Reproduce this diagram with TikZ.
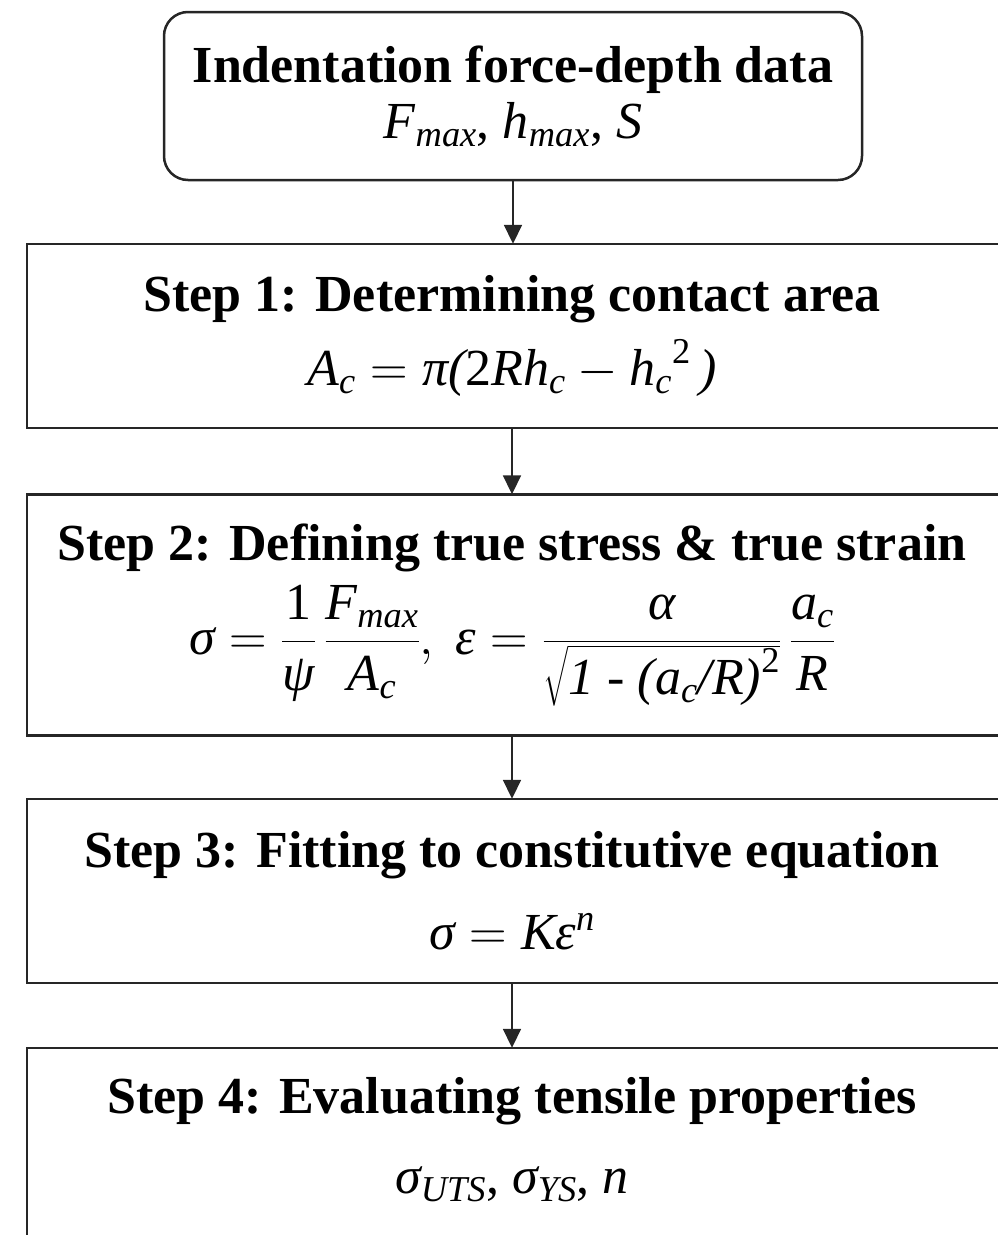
\documentclass[tikz,border=0pt]{standalone}
\usepackage{fix-cm}
\usepackage{amsmath}
\usepackage{fontspec}
\setmainfont{Liberation Serif}[ItalicFont={Liberation Serif Italic},BoldFont={Liberation Serif Bold}]
\usetikzlibrary{positioning,arrows.meta}
\newcommand{\mvar}[1]{\text{\itshape #1}}
\newcommand{\mnum}[1]{\text{\upshape #1}}

\begin{document}
\begin{tikzpicture}[x=1pt,y=-1pt,
    databox/.style={draw=black!85,line width=2.5pt,rounded corners=24pt,
      minimum width=698pt,minimum height=168pt,align=center,inner sep=0pt,
      font=\fontsize{52}{56}\selectfont},
    stepbox/.style={minimum width=970pt,align=center,inner sep=0pt,
      font=\fontsize{52}{60}\selectfont},
    frame/.style={draw=black!85,line width=2.5pt},
    arrow/.style={-{Triangle[length=19pt,width=18pt]},line width=1.8pt,draw=black!85}
  ]
  \useasboundingbox (0,0) rectangle (998,1235);
  \node[databox] at (513,96) (data) {\textbf{Indentation force-depth data}\\
    $\mvar{F}_{\mvar{max}}$, $\mvar{h}_{\mvar{max}}$, $\mvar{S}$};
  \node[stepbox,minimum height=184pt] at (512,336) (s1) {\textbf{Step 1: Determining contact area}\\[14pt]
    $\mvar{A}_{\mvar{c}}=\mvar{π}\mvar{(}\mnum{2}\mvar{R}\mvar{h}_{\mvar{c}}-{\mvar{h}_{\mvar{c}}}^{\mnum{2}}\,\mvar{)}$};
  \node[stepbox,minimum height=241pt] at (512,615) (s2) {\textbf{Step 2: Defining true stress \& true strain}\\[12pt]
    $\mvar{σ}=\dfrac{\mnum{1}}{\mvar{ψ}}\,\dfrac{\mvar{F}_{\mvar{max}}}{\mvar{A}_{\mvar{c}}},\ 
     \mvar{ε}=\dfrac{\mvar{α}}{\sqrt{\mvar{1 - (}\mvar{a}_{\mvar{c}}\mvar{/R)}^{\mnum{2}}}}\,\dfrac{\mvar{a}_{\mvar{c}}}{\mvar{R}}$};
  \node[stepbox,minimum height=184pt] at (512,891) (s3) {\textbf{Step 3: Fitting to constitutive equation}\\[22pt]
    $\mvar{σ}=\mvar{K}\mvar{ε}^{\mvar{n}}$};
  \node[stepbox,minimum height=184pt] at (512,1140) (s4) {\textbf{Step 4: Evaluating tensile properties}\\[20pt]
    $\mvar{σ}_{\mvar{UTS}}$, $\mvar{σ}_{\mvar{YS}}$, $\mvar{n}$};
  % open frames, cut at the right edge
  \draw[frame] ([xshift=30pt]s1.north east) -- (s1.north west) -- (s1.south west) -- ([xshift=30pt]s1.south east);
  \draw[frame] ([xshift=30pt]s2.north east) -- (s2.north west) -- (s2.south west) -- ([xshift=30pt]s2.south east);
  \draw[frame] ([xshift=30pt]s3.north east) -- (s3.north west) -- (s3.south west) -- ([xshift=30pt]s3.south east);
  \draw[frame] ([xshift=30pt]s4.north east) -- (s4.north west) -- ([yshift=-40pt]s4.south west);
  \draw[arrow] (data.south) -- (data.south |- s1.north);
  \draw[arrow] (s1) -- (s2);
  \draw[arrow] (s2) -- (s3);
  \draw[arrow] (s3) -- (s4);
\end{tikzpicture}
\end{document}
